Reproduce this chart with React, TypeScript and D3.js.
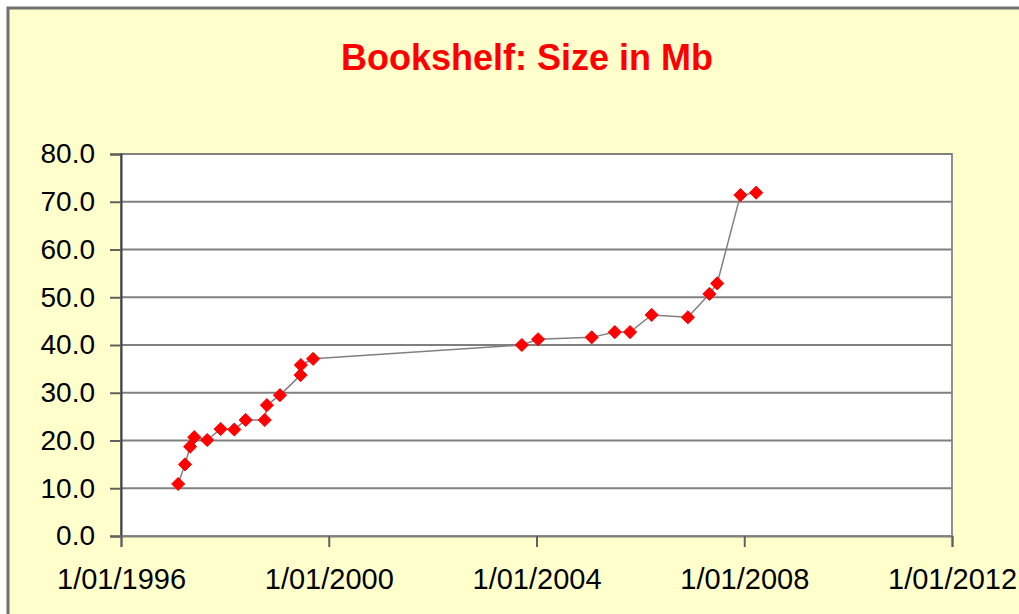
import React, { useRef, useEffect } from "react";
import * as d3 from "d3";

// release dates and sizes (Mb)
const releaseDates = [
    "1997-02-06", "1997-03-26", "1997-05-01", "1997-05-30", "1997-08-29",
    "1997-12-02", "1998-03-08", "1998-05-27", "1998-10-08", "1998-10-23",
    "1999-01-23", "1999-06-17", "1999-06-19", "1999-09-13",
    "2003-09-20", "2004-01-12", "2005-01-23", "2005-07-05", "2005-10-20",
    "2006-03-21", "2006-12-01", "2007-05-01", "2007-06-25", "2007-12-05",
    "2008-03-25",
];
const sizesMb = [
    10.9, 15.0, 18.7, 20.7, 20.1,
    22.4, 22.3, 24.3, 24.3, 27.4,
    29.5, 33.7, 35.8, 37.1,
    40.0, 41.2, 41.6, 42.7, 42.7,
    46.3, 45.8, 50.7, 52.9, 71.4,
    71.9,
];
const xTickDates = ["1996-01-01", "2000-01-01", "2004-01-01", "2008-01-01", "2012-01-01"];
const xTickLabels = ["1/01/1996", "1/01/2000", "1/01/2004", "1/01/2008", "1/01/2012"];
const yTicks = [0, 10, 20, 30, 40, 50, 60, 70, 80];

const W = 1019;
const H = 614;
const plot = { left: 121, top: 154, right: 952, bottom: 536 };

const App = () => {
    const svgRef = useRef(null);

    useEffect(() => {
        const svg = d3.select(svgRef.current);
        svg.selectAll("*").remove();

        const parse = d3.utcParse("%Y-%m-%d");
        const data = releaseDates.map((d, i) => ({ date: parse(d), size: sizesMb[i] }));

        const xScale = d3.scaleUtc()
            .domain([parse(xTickDates[0]), parse(xTickDates[xTickDates.length - 1])])
            .range([plot.left, plot.right]);
        const yScale = d3.scaleLinear()
            .domain([0, 80])
            .range([plot.bottom, plot.top]);

        // chart area (yellow) with gray frame
        svg.append("rect")
            .attr("x", 8).attr("y", 8)
            .attr("width", W + 20).attr("height", H + 20)
            .attr("fill", "#ffffcc")
            .attr("stroke", "#707070")
            .attr("stroke-width", 3);

        svg.append("text")
            .attr("x", 527).attr("y", 70)
            .attr("text-anchor", "middle")
            .attr("font-family", "Liberation Sans, Arial, sans-serif")
            .attr("font-weight", "bold")
            .attr("font-size", 36)
            .attr("fill", "#ff0000")
            .text("Bookshelf: Size in Mb");

        // plot area
        svg.append("rect")
            .attr("x", plot.left).attr("y", plot.top)
            .attr("width", plot.right - plot.left)
            .attr("height", plot.bottom - plot.top)
            .attr("fill", "#ffffff")
            .attr("stroke", "#909090")
            .attr("stroke-width", 2);

        svg.append("g")
            .selectAll("line")
            .data(yTicks.slice(1))
            .enter()
            .append("line")
            .attr("x1", plot.left).attr("x2", plot.right)
            .attr("y1", d => yScale(d)).attr("y2", d => yScale(d))
            .attr("stroke", "#808080")
            .attr("stroke-width", 2);

        const font = "Liberation Sans, Arial, sans-serif";

        const yAxis = d3.axisLeft(yScale)
            .tickValues(yTicks)
            .tickSize(11)
            .tickPadding(15)
            .tickFormat(d3.format(".1f"));
        const gy = svg.append("g")
            .attr("transform", `translate(${plot.left}, 0)`)
            .call(yAxis);
        gy.select(".domain").attr("stroke", "#404040").attr("stroke-width", 2);
        gy.selectAll(".tick line").attr("stroke", "#606060").attr("stroke-width", 2);
        gy.selectAll("text")
            .attr("font-family", font)
            .attr("font-size", 28)
            .attr("fill", "#000000");

        const xAxis = d3.axisBottom(xScale)
            .tickValues(xTickDates.map(parse))
            .tickSize(11)
            .tickPadding(21)
            .tickFormat((d, i) => xTickLabels[i]);
        const gx = svg.append("g")
            .attr("transform", `translate(0, ${plot.bottom})`)
            .call(xAxis);
        gx.select(".domain").attr("stroke", "#808080").attr("stroke-width", 2);
        gx.selectAll(".tick line").attr("stroke", "#606060").attr("stroke-width", 2);
        gx.selectAll("text")
            .attr("font-family", font)
            .attr("font-size", 29)
            .attr("fill", "#000000");

        // series line
        const line = d3.line()
            .x(d => xScale(d.date))
            .y(d => yScale(d.size));
        svg.append("path")
            .datum(data)
            .attr("d", line)
            .attr("fill", "none")
            .attr("stroke", "#808080")
            .attr("stroke-width", 1.5);

        // diamond markers
        const diamond = d3.symbol().type(d3.symbolDiamond2).size(110);
        svg.append("g")
            .selectAll("path")
            .data(data)
            .enter()
            .append("path")
            .attr("d", diamond)
            .attr("transform", d => `translate(${xScale(d.date)}, ${yScale(d.size)})`)
            .attr("fill", "#ff0000")
            .attr("stroke", "#ff0000")
            .attr("stroke-width", 1);
    }, []);

    return (
        <div style={{ position: "absolute", left: 0, top: 0 }}>
            <svg ref={svgRef} width={W} height={H} style={{ display: "block" }}></svg>
        </div>
    );
};

export default App;
